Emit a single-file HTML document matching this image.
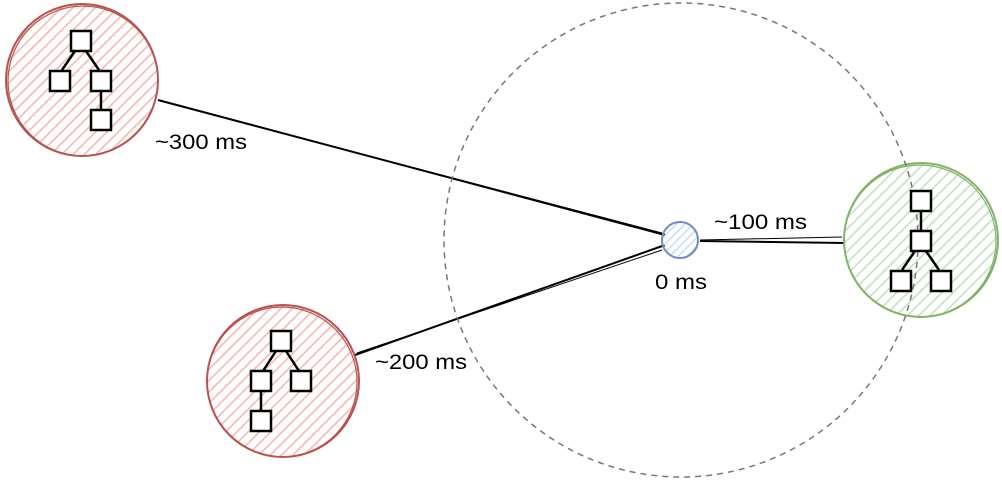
<!DOCTYPE html>
<html><head><style>body{margin:0;background:#fff}svg{display:block}text{font-family:"Liberation Sans",sans-serif;font-size:21px;fill:#000}</style></head><body>
<svg width="1002" height="480" xmlns="http://www.w3.org/2000/svg">
<defs>
<pattern id="hr" width="8" height="8" patternUnits="userSpaceOnUse" patternTransform="rotate(45)"><line x1="0" y1="0" x2="0" y2="8" stroke="#f4bcba" stroke-width="3.5"/></pattern>
<pattern id="hg" width="8" height="8" patternUnits="userSpaceOnUse" patternTransform="rotate(45)"><line x1="0" y1="0" x2="0" y2="8" stroke="#c8e2c6" stroke-width="3.5"/></pattern>
<pattern id="hb" width="6" height="6" patternUnits="userSpaceOnUse" patternTransform="rotate(45)"><line x1="0" y1="0" x2="0" y2="6" stroke="#c9dcf7" stroke-width="3"/></pattern>
</defs>
<g stroke="#000" stroke-width="2" fill="none">
<line x1="158" y1="100" x2="665" y2="235"/>
<line x1="160" y1="101" x2="662" y2="233" stroke-width="1"/>
<line x1="355" y1="355" x2="665" y2="245"/>
<line x1="357" y1="353" x2="662" y2="250" stroke-width="1"/>
<line x1="700" y1="241" x2="845" y2="243"/>
<line x1="700" y1="240" x2="842" y2="237" stroke-width="1"/>
</g>
<circle cx="82" cy="80" r="76" fill="url(#hr)" stroke="#b85450" stroke-width="2"/>
<circle cx="83" cy="81" r="75" fill="none" stroke="#b85450" stroke-width="1.2"/>
<circle cx="283" cy="381" r="76" fill="url(#hr)" stroke="#b85450" stroke-width="2"/>
<circle cx="282" cy="382" r="75" fill="none" stroke="#b85450" stroke-width="1.2"/>
<circle cx="921" cy="240" r="77" fill="url(#hg)" stroke="#82b366" stroke-width="2"/>
<circle cx="920" cy="241" r="76" fill="none" stroke="#82b366" stroke-width="1.2"/>
<circle cx="681" cy="240" r="237" fill="none" stroke="#777" stroke-width="1.5" stroke-dasharray="6,5"/>
<circle cx="680" cy="240" r="18" fill="url(#hb)" stroke="#6c8ebf" stroke-width="2"/>
<g stroke="#000" stroke-width="2.5" fill="#fff">
<line x1="75" y1="51" x2="62" y2="70"/><line x1="86" y1="51" x2="99" y2="70"/><line x1="101" y1="91" x2="101" y2="110"/>
<rect x="71" y="31" width="20" height="20"/><rect x="50" y="71" width="20" height="20"/><rect x="91" y="71" width="20" height="20"/><rect x="91" y="110" width="20" height="20"/>
<line x1="276" y1="351" x2="263" y2="371"/><line x1="286" y1="351" x2="299" y2="371"/><line x1="261" y1="391" x2="261" y2="411"/>
<rect x="271" y="331" width="20" height="20"/><rect x="251" y="371" width="20" height="20"/><rect x="291" y="371" width="20" height="20"/><rect x="251" y="411" width="20" height="20"/>
<line x1="921" y1="211" x2="921" y2="230"/><line x1="915" y1="251" x2="902" y2="270"/><line x1="926" y1="251" x2="939" y2="270"/>
<rect x="911" y="191" width="20" height="20"/><rect x="911" y="231" width="20" height="20"/><rect x="891" y="271" width="20" height="20"/><rect x="931" y="271" width="20" height="20"/>
</g>
<text x="155" y="149" textLength="92" lengthAdjust="spacingAndGlyphs">~300 ms</text>
<text x="375" y="369" textLength="92" lengthAdjust="spacingAndGlyphs">~200 ms</text>
<text x="714" y="229" textLength="93" lengthAdjust="spacingAndGlyphs">~100 ms</text>
<text x="655" y="289" textLength="52" lengthAdjust="spacingAndGlyphs">0 ms</text>
</svg>
</body></html>
